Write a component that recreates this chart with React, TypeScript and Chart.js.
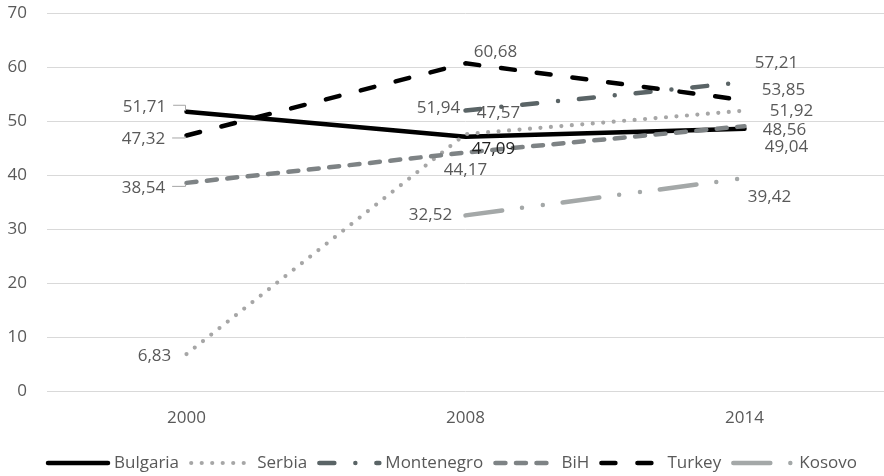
import { useEffect, useRef } from 'react';
import { Chart, registerables } from 'chart.js';

Chart.register(...registerables);

// Categories and series values
const years = ['2000', '2008', '2014'];
const seriesNames = ['Bulgaria', 'Serbia', 'Montenegro', 'BiH', 'Turkey', 'Kosovo'];
const bulgaria = [51.71, 47.09, 48.56];
const serbia = [6.83, 47.57, 51.92];
const montenegro = [null, 51.94, 57.21];
const bih = [38.54, 44.17, 49.04];
const turkey = [47.32, 60.68, 53.85];
const kosovo = [null, 32.52, 39.42];

// Value axis ticks
const yMin = 0;
const yMax = 70;
const yStep = 10;

const FONT = '"Open Sans", "DejaVu Sans", sans-serif';
const FONT_SIZE = 17;
const TEXT = '#595959';

// Line appearance per series
const seriesStyles = [
  { color: '#000000', dash: [] as number[], width: 4.5 },
  { color: '#a6a6a6', dash: [0, 10.5], width: 4.2 },
  { color: '#5a6466', dash: [15, 21, 0, 21], width: 4.5 },
  { color: '#7e8385', dash: [10, 10.5], width: 4.5 },
  { color: '#000000', dash: [14, 22], width: 4.5 },
  { color: '#a4a8a8', dash: [37, 20, 0, 21, 0, 20], width: 4.5 },
];

// Value-label placement relative to each point (pixels), and leader lines
type LabelPos = { dx: number; dy: number; leader?: boolean; color?: string } | null;
const labelPlacement: LabelPos[][] = [
  [{ dx: -42, dy: -5, leader: true }, { dx: 28, dy: 12, color: '#1f1f1f' }, { dx: 40, dy: 1 }],
  [{ dx: -32, dy: 2 }, { dx: 33, dy: -21 }, { dx: 47, dy: 1 }],
  [null, { dx: -27, dy: -2 }, { dx: 32, dy: -19 }],
  [{ dx: -43, dy: 5, leader: true }, { dx: 0, dy: 18 }, { dx: 42, dy: 21 }],
  [{ dx: -43, dy: 4, leader: true }, { dx: 30, dy: -11 }, { dx: 39, dy: -10 }],
  [null, { dx: -35, dy: 0 }, { dx: 25, dy: 19 }],
];

const fmt = (v: number) => v.toFixed(2).replace('.', ',');

const valueLabels = {
  id: 'valueLabels',
  afterDatasetsDraw(chart: any) {
    const ctx = chart.ctx as CanvasRenderingContext2D;
    ctx.save();
    ctx.font = `${FONT_SIZE}px ${FONT}`;
    ctx.textAlign = 'center';
    ctx.textBaseline = 'middle';
    chart.data.datasets.forEach((ds: any, i: number) => {
      const meta = chart.getDatasetMeta(i);
      ds.data.forEach((v: number | null, j: number) => {
        const pos = labelPlacement[i][j];
        if (v == null || !pos) return;
        const pt = meta.data[j];
        const text = fmt(v);
        const lx = pt.x + pos.dx;
        const ly = pt.y + pos.dy;
        if (pos.leader) {
          const half = ctx.measureText(text).width / 2;
          const ty = ly - 1.5;
          ctx.strokeStyle = '#a6a6a6';
          ctx.lineWidth = 1;
          ctx.setLineDash([]);
          ctx.beginPath();
          ctx.moveTo(lx + half + 7, ty);
          ctx.lineTo(pt.x - 1, ty);
          ctx.lineTo(pt.x - 1, pt.y + (pt.y > ty ? -1 : 1));
          ctx.stroke();
        }
        ctx.fillStyle = pos.color || TEXT;
        ctx.fillText(text, lx, ly);
      });
    });
    ctx.restore();
  },
};

// Legend row under the axis: line sample + name, spread across the row
const lineLegend = {
  id: 'lineLegend',
  afterDraw(chart: any) {
    const ctx = chart.ctx as CanvasRenderingContext2D;
    ctx.save();
    ctx.font = `${FONT_SIZE}px ${FONT}`;
    ctx.textBaseline = 'middle';
    ctx.textAlign = 'left';
    const y = 463;
    const start = 46;
    const end = 857;
    const sample = 62;
    const textGap = 6;
    const items = chart.data.datasets;
    const widths = items.map((ds: any) => sample + textGap + ctx.measureText(ds.label).width);
    const used = widths.reduce((a: number, b: number) => a + b, 0);
    const gap = (end - start - used) / (items.length - 1);
    let x = start;
    items.forEach((ds: any, i: number) => {
      ctx.strokeStyle = ds.borderColor;
      ctx.lineWidth = ds.borderWidth;
      ctx.lineCap = 'round';
      ctx.setLineDash(ds.borderDash || []);
      ctx.beginPath();
      ctx.moveTo(x + 2, y);
      ctx.lineTo(x + sample, y);
      ctx.stroke();
      ctx.setLineDash([]);
      ctx.fillStyle = TEXT;
      ctx.fillText(ds.label, x + sample + textGap, y);
      x += widths[i] + gap;
    });
    ctx.restore();
  },
};

export default function App() {
  const canvasRef = useRef<HTMLCanvasElement | null>(null);

  useEffect(() => {
    if (!canvasRef.current) return;
    const values = [bulgaria, serbia, montenegro, bih, turkey, kosovo];
    const chart = new Chart(canvasRef.current, {
      type: 'line',
      data: {
        labels: years,
        datasets: values.map((data, i) => ({
          label: seriesNames[i],
          data,
          borderColor: seriesStyles[i].color,
          backgroundColor: seriesStyles[i].color,
          borderWidth: seriesStyles[i].width,
          borderDash: seriesStyles[i].dash,
          borderCapStyle: 'round',
          borderJoinStyle: 'round',
          pointRadius: 0,
          pointHoverRadius: 0,
          tension: 0,
          fill: false,
          order: values.length - i,
        })),
      },
      options: {
        responsive: false,
        animation: false,
        layout: { padding: { top: 13, right: 0, bottom: 0, left: 0 } },
        plugins: {
          legend: { display: false },
          tooltip: { enabled: false },
        },
        scales: {
          x: {
            offset: true,
            grid: { display: false, drawTicks: false, offset: true },
            border: { display: false },
            ticks: { color: TEXT, font: { family: FONT, size: FONT_SIZE }, padding: 17 },
            afterFit(scale: any) {
              scale.height = 85;
              scale.paddingLeft = 0;
              scale.paddingRight = 0;
            },
          },
          y: {
            min: yMin,
            max: yMax,
            grid: { color: '#d9d9d9', lineWidth: 1, drawTicks: false },
            border: { display: false },
            ticks: { stepSize: yStep, color: TEXT, font: { family: FONT, size: FONT_SIZE }, padding: 20 },
            afterFit(scale: any) {
              scale.width = 47;
              scale.paddingTop = 0;
              scale.paddingBottom = 0;
            },
          },
        },
      },
      plugins: [valueLabels, lineLegend],
    });
    return () => chart.destroy();
  }, []);

  return (
    <div style={{ position: 'fixed', left: 0, top: 0, width: 884, height: 476, background: '#ffffff' }}>
      <canvas ref={canvasRef} width={884} height={476} style={{ display: 'block' }} />
    </div>
  );
}
